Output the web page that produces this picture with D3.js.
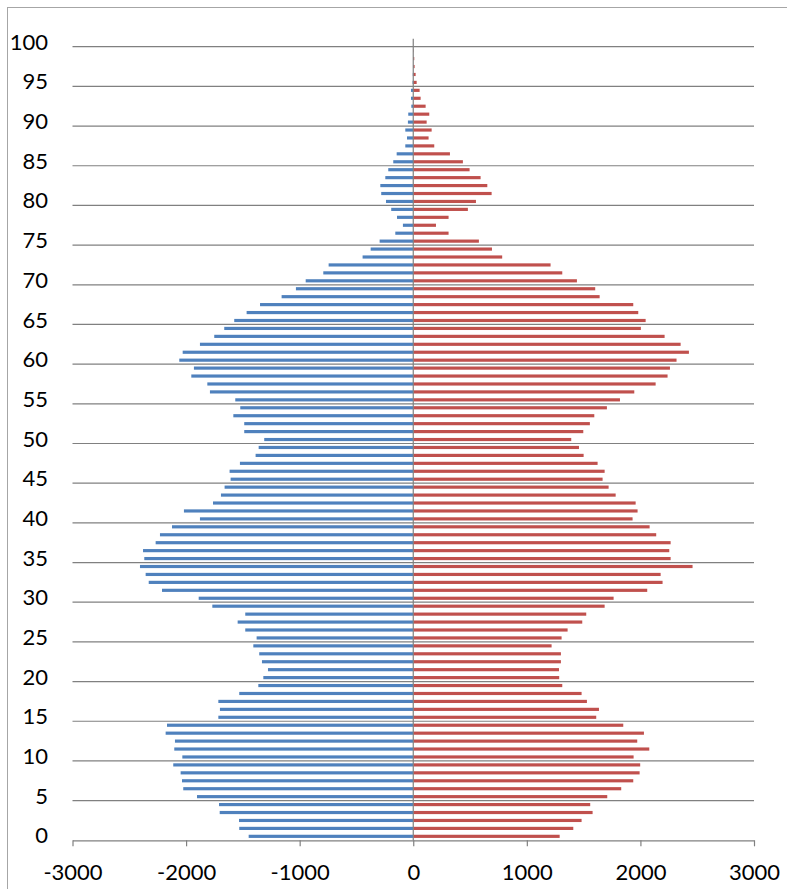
<!DOCTYPE html>
<html>
<head>
<meta charset="utf-8">
<script src="https://cdn.jsdelivr.net/npm/d3@7/dist/d3.min.js"></script>
<style>
  html, body { margin: 0; padding: 0; background: #fff; }
  svg { display: block; }
  text { font-family: Lato, "Open Sans", sans-serif; }
</style>
</head>
<body>
<svg id="chart" width="787" height="889"></svg>
<script>
// ---- data ----
const ages = d3.range(0, 101);
const male = [
  -1449, -1532, -1534, -1704, -1710, -1904, -2025, -2036, -2048, -2113,
  -2033, -2104, -2098, -2180, -2168, -1716, -1702, -1716, -1532, -1364,
  -1320, -1279, -1332, -1356, -1408, -1379, -1479, -1546, -1479, -1769,
  -1889, -2212, -2329, -2356, -2406, -2368, -2379, -2268, -2230, -2124,
  -1878, -2019, -1763, -1693, -1661, -1608, -1617, -1526, -1388, -1361,
  -1312, -1488, -1488, -1584, -1523, -1567, -1790, -1813, -1954, -1931,
  -2060, -2030, -1878, -1752, -1664, -1576, -1467, -1349, -1159, -1033,
  -947, -792, -745, -446, -375, -296, -158, -91, -143, -194,
  -240, -282, -290, -246, -220, -176, -146, -70, -55, -70,
  -47, -44, -17, -20, -20, -6, -4, -2, -1, 0,
  0
];
const female = [
  1289, 1409, 1482, 1579, 1558, 1708, 1831, 1937, 1993, 1998,
  1940, 2078, 1972, 2031, 1849, 1611, 1635, 1529, 1482, 1312,
  1285, 1283, 1300, 1300, 1218, 1306, 1359, 1488, 1523, 1685,
  1764, 2060, 2195, 2178, 2459, 2266, 2254, 2266, 2139, 2081,
  1931, 1975, 1958, 1782, 1720, 1667, 1685, 1623, 1500, 1459,
  1391, 1497, 1555, 1594, 1705, 1820, 1946, 2134, 2239, 2260,
  2318, 2427, 2354, 2213, 2004, 2046, 1981, 1937, 1641, 1602,
  1441, 1312, 1209, 783, 693, 578, 311, 200, 311, 481,
  552, 690, 652, 593, 496, 437, 323, 185, 135, 162,
  118, 141, 109, 65, 56, 30, 21, 12, 9, 3,
  0
];
const xTicks = [-3000, -2000, -1000, 0, 1000, 2000, 3000];
const yTicks = d3.range(0, 101, 5);

// ---- layout ----
const svg = d3.select("#chart");
const plotLeft = 72.5, plotRight = 754, plotBottom = 840.3;
const step = 7.936;
const plotTop = plotBottom - step * ages.length;

const x = d3.scaleLinear().domain([-3000, 3000]).range([plotLeft, plotRight]);
const y = d3.scaleBand().domain(ages).range([plotBottom, plotTop])
  .paddingInner(0.6).paddingOuter(0.3);
// lower boundary of an age's category slot
const slotBottom = a => y(a) + y.bandwidth() + y.step() * y.paddingInner() / 2;

// chart frame
svg.append("rect").attr("x", 7.5).attr("y", 7.5)
  .attr("width", 800).attr("height", 900)
  .attr("fill", "none").attr("stroke", "#a6a6a6").attr("stroke-width", 1);

// gridlines
svg.append("g").selectAll("line").data(yTicks.filter(d => d > 0)).join("line")
  .attr("x1", plotLeft).attr("x2", plotRight)
  .attr("y1", d => slotBottom(d)).attr("y2", d => slotBottom(d))
  .attr("stroke", "#808080").attr("stroke-width", 1.2);

// bars
svg.append("g").selectAll("rect").data(ages).join("rect")
  .attr("x", d => x(male[d])).attr("width", d => x(0) - x(male[d]))
  .attr("y", d => y(d)).attr("height", y.bandwidth())
  .attr("fill", "#4F81BD");
svg.append("g").selectAll("rect").data(ages).join("rect")
  .attr("x", x(0)).attr("width", d => x(female[d]) - x(0))
  .attr("y", d => y(d)).attr("height", y.bandwidth())
  .attr("fill", "#C0504D");

// vertical axis line at zero
svg.append("line")
  .attr("x1", x(0)).attr("x2", x(0))
  .attr("y1", plotTop).attr("y2", plotBottom)
  .attr("stroke", "#808080").attr("stroke-width", 1.2);

// x axis
const xAxis = svg.append("g").attr("transform", `translate(0,${plotBottom})`)
  .call(d3.axisBottom(x).tickValues(xTicks).tickFormat(d => String(d))
    .tickSize(6).tickSizeOuter(0).tickPadding(18));
xAxis.select(".domain").attr("stroke", "#808080").attr("stroke-width", 1.2);
xAxis.selectAll(".tick line").attr("stroke", "#808080").attr("stroke-width", 1.2);
xAxis.selectAll("text").attr("font-size", 22).attr("fill", "#000")
  .attr("font-family", "Lato, 'Open Sans', sans-serif");

// y labels
const yAxis = svg.append("g").attr("transform", "translate(48,0)")
  .call(d3.axisLeft(y).tickValues(yTicks).tickSize(0).tickPadding(0));
yAxis.select(".domain").remove();
yAxis.selectAll("text").attr("font-size", 22).attr("fill", "#000")
  .attr("font-family", "Lato, 'Open Sans', sans-serif");
</script>
</body>
</html>
